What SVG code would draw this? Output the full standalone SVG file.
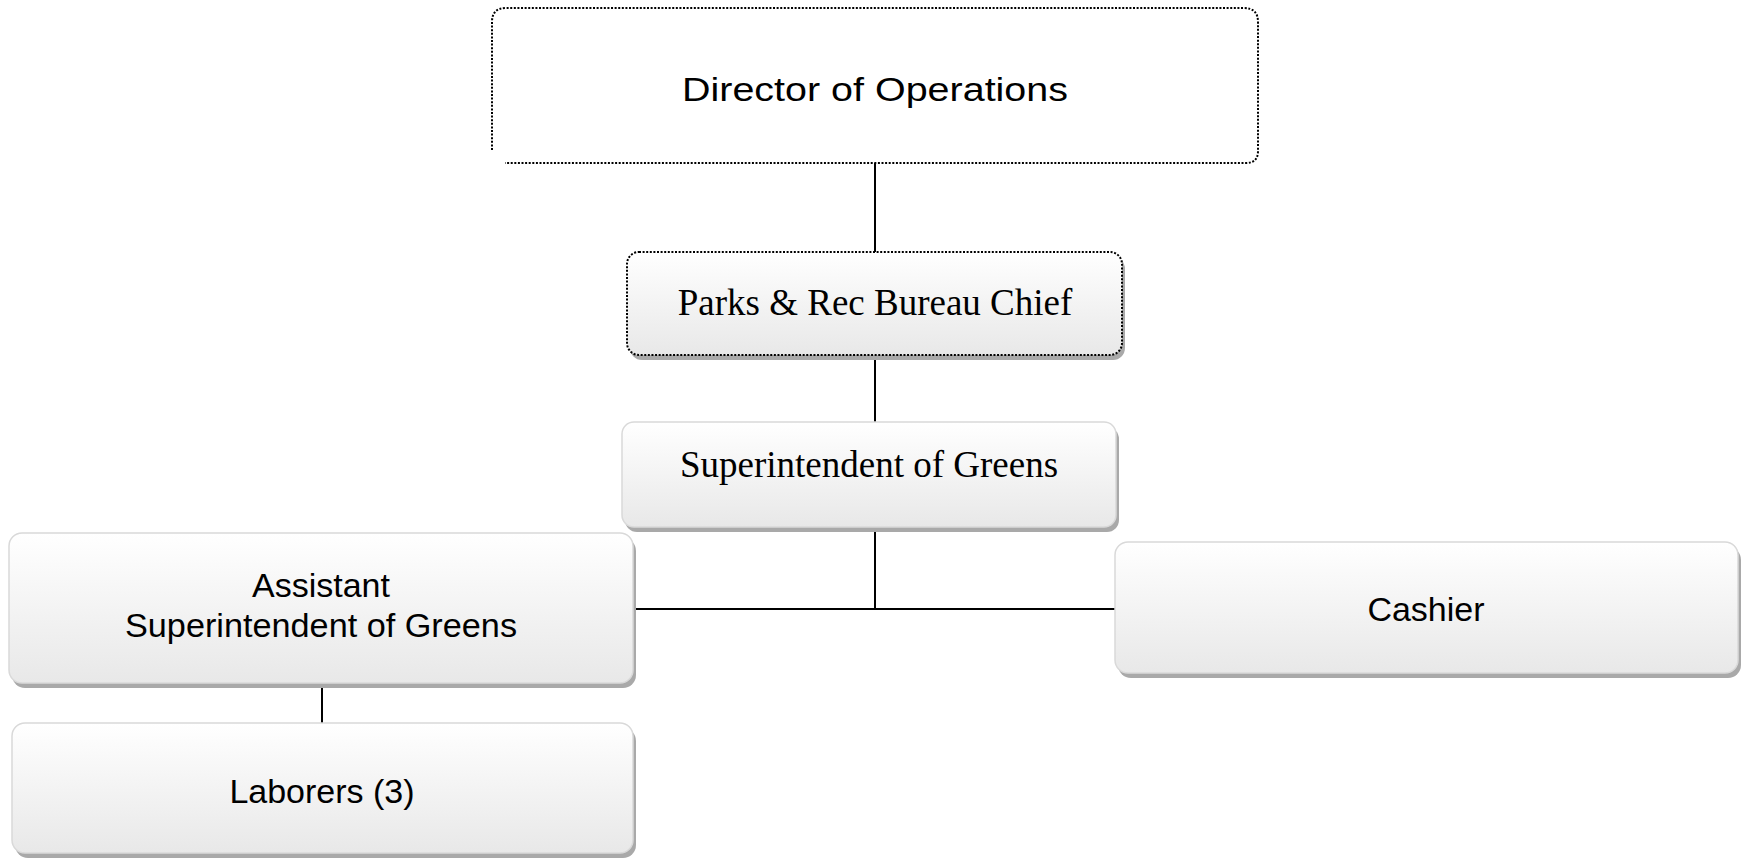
<svg xmlns="http://www.w3.org/2000/svg" width="1741" height="860" viewBox="0 0 1741 860">
  <defs>
    <linearGradient id="boxFill" x1="0" y1="0" x2="0" y2="1">
      <stop offset="0" stop-color="#ffffff"/>
      <stop offset="1" stop-color="#e8e8e8"/>
    </linearGradient>
    <style>
      .box { fill: url(#boxFill); stroke: #d9d9d9; stroke-width: 1.5; }
      .dotted { fill: url(#boxFill); stroke: #000; stroke-width: 2; stroke-dasharray: 2 1.6; }
      .outline { fill: none; stroke: #000; stroke-width: 2; stroke-dasharray: 2 1.6; }
      .shadow { fill: #a9a9a9; }
      .sans { font-family: "Liberation Sans", Arial, sans-serif; font-size: 34px; fill: #000; text-anchor: middle; }
      .serif { font-family: "Liberation Serif", "Times New Roman", serif; font-size: 37px; fill: #000; text-anchor: middle; }
      .link { stroke: #000; stroke-width: 2; fill: none; }
    </style>
  </defs>
  <rect width="1741" height="860" fill="#ffffff"/>

  <!-- reporting lines -->
  <g id="connectors">
    <line class="link" x1="875" y1="163" x2="875" y2="252"/>
    <line class="link" x1="875" y1="355" x2="875" y2="422"/>
    <line class="link" x1="875" y1="527" x2="875" y2="609"/>
    <line class="link" x1="633" y1="609" x2="1115" y2="609"/>
    <line class="link" x1="322" y1="688" x2="322" y2="723"/>
  </g>

  <g id="director">
    <path class="outline" d="M492,150 V22 Q492,8 506,8 H1244 Q1258,8 1258,22 V151 Q1258,163 1246,163 H505"/>
    <text class="sans" x="875" y="101" font-size="39.5" textLength="386" lengthAdjust="spacingAndGlyphs">Director of Operations</text>
  </g>

  <g id="bureau-chief">
    <rect class="shadow" x="630" y="257" width="495" height="103" rx="12"/>
    <rect class="dotted" x="627" y="252" width="495" height="103" rx="12"/>
    <text class="serif" x="875" y="315">Parks &amp; Rec Bureau Chief</text>
  </g>

  <g id="superintendent">
    <rect class="shadow" x="625" y="427" width="494" height="105" rx="12"/>
    <rect class="box" x="622" y="422" width="494" height="105" rx="12"/>
    <text class="serif" x="869" y="477">Superintendent of Greens</text>
  </g>

  <g id="assistant">
    <rect class="shadow" x="12" y="538" width="624" height="150" rx="13"/>
    <rect class="box" x="9" y="533" width="624" height="150" rx="13"/>
    <text class="sans" x="321" y="597">Assistant</text>
    <text class="sans" x="321" y="637" textLength="392" lengthAdjust="spacingAndGlyphs">Superintendent of Greens</text>
  </g>

  <g id="cashier">
    <rect class="shadow" x="1118" y="547" width="623" height="131" rx="13"/>
    <rect class="box" x="1115" y="542" width="623" height="131" rx="13"/>
    <text class="sans" x="1426" y="621">Cashier</text>
  </g>

  <g id="laborers">
    <rect class="shadow" x="15" y="728" width="621" height="130" rx="13"/>
    <rect class="box" x="12" y="723" width="621" height="130" rx="13"/>
    <text class="sans" x="322" y="803">Laborers (3)</text>
  </g>
</svg>
